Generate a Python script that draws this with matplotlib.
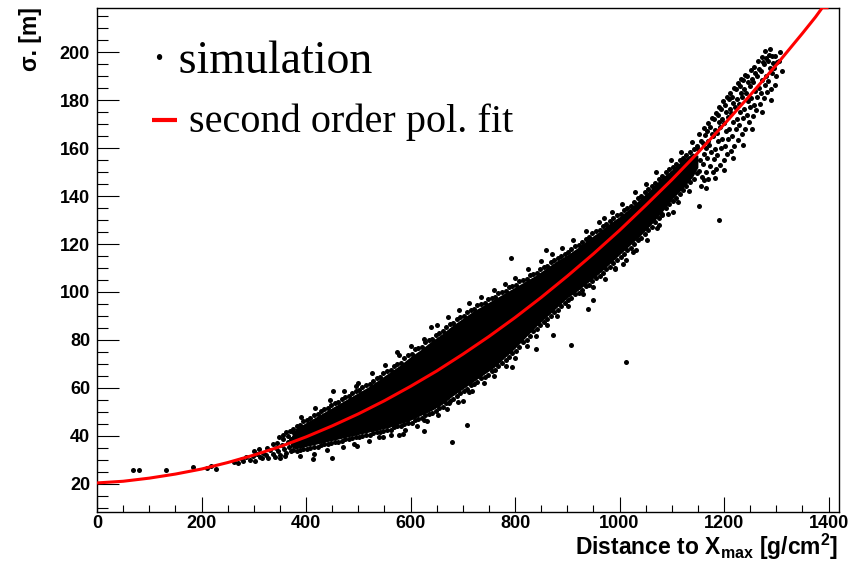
import matplotlib
matplotlib.use("Agg")
import matplotlib.pyplot as plt
from matplotlib.lines import Line2D
from matplotlib.ticker import MultipleLocator

plt.rcParams['font.family'] = ['Liberation Sans', 'DejaVu Sans']
plt.rcParams['mathtext.fontset'] = 'custom'
plt.rcParams['mathtext.bf'] = 'Liberation Sans:bold'
plt.rcParams['mathtext.rm'] = 'Liberation Sans:bold'
plt.rcParams['mathtext.default'] = 'bf'

# ---------------- data ----------------
x_label = r'Distance to X$_{max}$ [g/cm$^{2}$]'
y_label = 'σ. [m]'
legend_sim = '· simulation'
legend_fit = 'second order pol. fit'

# envelope of the solid (saturated) part of the simulation cloud
core_x = [370, 380, 400, 420, 440, 460, 480, 500, 520, 540, 560, 580, 600, 620, 640,
          660, 680, 700, 720, 740, 760, 780, 800, 820, 840, 860, 880, 900, 920, 940,
          960, 980, 1000, 1020, 1040, 1060, 1080, 1100, 1120, 1140, 1150]
core_lo = [35.5, 34.5, 35.5, 36.5, 37.5, 38.5, 39.5, 40.5, 41.5, 42.5, 43.5, 45, 46.5, 48.5, 50.5,
           53, 56.5, 59.5, 62.5, 65.5, 68.5, 72.5, 76.5, 81, 85.5, 89.5, 93.5, 97.5, 100.5, 104,
           107.5, 111.5, 115.5, 119.5, 123.5, 128, 133, 138.5, 143, 148, 152]
core_hi = [39, 43, 45.5, 48, 50.5, 53, 55.5, 58, 60.5, 63.5, 66.5, 69.5, 73, 76, 79.5,
           82.5, 86, 89, 92, 94.5, 97, 99.5, 102, 104.5, 107, 110, 113, 115.5, 118.5, 122,
           125, 128.5, 131.5, 135, 139, 143, 147.5, 151, 155, 158, 157]

# low-distance tail of the cloud
low_tail = [(280, 29.5), (286, 31), (292, 30), (298, 31.5), (302, 29.5), (306, 32.5), (311, 31),
            (316, 30.5), (318, 33), (324, 32), (328, 30.5), (331, 34), (336, 32.5), (340, 31),
            (343, 35), (347, 33.5), (351, 32), (354, 36), (358, 34.5), (362, 33), (365, 37.5),
            (368, 35.5), (372, 33.5), (372, 38.5), (366, 40), (355, 38.5), (345, 37), (336, 36.5),
            (325, 35), (310, 34.5), (300, 33.5), (350, 30.5), (360, 31.5), (377, 36), (377, 38),
            (356, 40.5), (362, 41.5), (348, 39.5), (370, 42), (375, 43)]

# points along the lower border of the dense band
lower_edge = [(375, 34), (382, 33.5), (388, 34), (395, 34.5), (402, 34.5), (408, 35), (415, 35.5),
              (422, 35.5), (428, 36), (435, 36.5), (442, 36.5), (448, 37), (455, 37.5), (462, 37.5),
              (468, 38), (475, 38.5), (482, 38.5), (488, 39), (495, 39.5), (502, 39.5), (508, 40),
              (515, 40.5), (522, 40.5), (528, 41), (535, 41.5), (542, 41.5), (548, 42), (555, 42.5),
              (562, 42.5), (568, 43.5), (575, 44), (582, 44), (588, 45), (595, 45.5), (602, 45.5),
              (608, 46.5), (615, 47), (622, 47.5), (628, 48.5), (635, 49), (642, 49.5), (648, 50.5),
              (655, 51.5), (662, 52), (668, 53.5), (675, 54.5), (682, 55.5), (688, 56.5), (695, 58),
              (702, 58.5), (708, 59.5), (715, 61), (722, 61.5), (728, 62.5), (735, 64), (742, 64.5),
              (748, 65.5), (755, 67), (762, 67.5), (768, 69), (775, 70.5), (782, 71.5), (788, 73),
              (795, 74.5), (802, 75.5), (808, 77), (815, 79), (822, 80), (828, 81.5), (835, 83.5),
              (842, 84.5), (848, 86), (855, 87.5), (862, 88.5), (868, 90), (875, 91.5), (882, 92.5),
              (888, 94), (895, 95.5), (902, 96.5), (908, 97.5), (915, 99), (922, 99.5), (928, 101),
              (935, 102.5), (942, 103), (948, 104.5), (955, 106), (962, 106.5), (968, 108),
              (975, 109.5), (982, 110.5), (988, 112), (995, 113.5), (1002, 114.5), (1008, 116),
              (1015, 117.5), (1022, 118.5), (1028, 120), (1035, 121.5), (1042, 122.5), (1048, 124),
              (1055, 126), (1062, 127), (1068, 129), (1075, 131), (1082, 132), (1088, 135),
              (1095, 136.5), (1102, 138), (1108, 139), (1115, 141), (1122, 142.5), (1128, 144),
              (1135, 146), (1142, 147), (1148, 149.5),
              (388, 31.5), (415, 32.5), (440, 34), (470, 35.5), (492, 36.5), (520, 38), (540, 39.5),
              (562, 40.5), (590, 42.5), (612, 44), (632, 46), (652, 48.5), (670, 51), (690, 54),
              (718, 58.5), (740, 62), (760, 65), (782, 69), (800, 72.5), (822, 77.5), (840, 81.5),
              (862, 86), (880, 90), (902, 94), (930, 99), (950, 102), (972, 105.5), (992, 109.5),
              (1012, 113.5), (1032, 117.5), (1052, 121.5), (1072, 126.5), (1092, 132.5),
              (1112, 137.5), (1132, 142)]

# points along the upper border of the dense band
upper_edge = [(375, 41.5), (382, 44), (388, 44.5), (395, 46), (402, 46.5), (408, 47.5), (415, 48.5),
              (422, 49), (428, 50.5), (435, 51), (442, 51.5), (448, 53), (455, 53.5), (462, 54),
              (468, 55.5), (475, 56), (482, 56.5), (488, 58), (495, 58.5), (502, 59), (508, 60.5),
              (515, 61), (522, 61.5), (528, 63), (535, 64), (542, 64.5), (548, 66), (555, 67),
              (562, 67.5), (568, 69), (575, 70), (582, 70.5), (588, 72.5), (595, 73.5), (602, 74),
              (608, 76), (615, 76.5), (622, 77), (628, 79), (635, 80), (642, 80.5), (648, 82),
              (655, 83), (662, 83.5), (668, 85.5), (675, 86.5), (682, 87), (688, 88.5), (695, 89.5),
              (702, 90), (708, 91.5), (715, 92.5), (722, 93), (728, 94.5), (735, 95), (742, 95.5),
              (748, 97), (755, 97.5), (762, 98), (768, 99.5), (775, 100), (782, 100.5), (788, 102),
              (795, 102.5), (802, 103), (808, 104.5), (815, 105), (822, 105.5), (828, 107),
              (835, 107.5), (842, 108), (848, 109.5), (855, 110.5), (862, 111), (868, 112.5),
              (875, 113.5), (882, 114), (888, 115), (895, 116), (902, 116.5), (908, 118), (915, 119),
              (922, 119.5), (928, 121), (935, 122), (942, 123), (948, 124.5), (955, 125.5),
              (962, 126), (968, 127.5), (975, 128.5), (982, 129.5), (988, 131), (995, 132),
              (1002, 132.5), (1008, 134), (1015, 135), (1022, 136), (1028, 137.5), (1035, 139),
              (1042, 140), (1048, 141.5), (1055, 143), (1062, 144), (1068, 145.5), (1075, 147),
              (1082, 148.5), (1088, 150), (1095, 151.5), (1102, 152), (1108, 153.5), (1115, 155),
              (1122, 156), (1128, 157), (1135, 158.5), (1142, 159.5), (1148, 161),
              (390, 48), (418, 51.5), (445, 55), (472, 58.5), (500, 62), (527, 66), (552, 69.5),
              (578, 73.5), (600, 77.5), (625, 80.5), (650, 86), (672, 89.5), (692, 92.5), (712, 95.5),
              (735, 98), (760, 101), (780, 103.5), (800, 106), (825, 109.5), (850, 113), (870, 116),
              (890, 118.5), (910, 121.5), (935, 125.5), (960, 129), (985, 133.5), (1005, 136.5),
              (1030, 141.5), (1050, 145), (1070, 150), (1098, 155), (1118, 158.5), (1138, 162.5)]

# sparser high-distance part of the cloud
upper_cloud = [(1152, 150.5), (1154, 155), (1151, 159.5), (1156, 163), (1153, 166), (1157, 148),
               (1160, 153.5), (1162, 157.5), (1159, 162), (1163, 165.5), (1161, 168.5),
               (1166, 150), (1168, 156), (1165, 160), (1169, 163), (1167, 167), (1170, 170.5),
               (1173, 152.5), (1175, 158.5), (1172, 161.5), (1176, 166), (1174, 169), (1177, 172.5),
               (1180, 155.5), (1182, 159.5), (1179, 165), (1183, 167.5), (1181, 172), (1184, 174.5),
               (1187, 157), (1189, 163), (1186, 166.5), (1190, 171), (1188, 174), (1191, 177),
               (1194, 160), (1196, 164), (1193, 169), (1197, 172), (1195, 176.5), (1198, 179.5),
               (1201, 161), (1203, 167), (1200, 170.5), (1204, 175), (1202, 178), (1205, 181.5),
               (1208, 164), (1210, 168), (1207, 173), (1211, 176.5), (1209, 180.5), (1212, 183),
               (1215, 165), (1217, 171), (1214, 174.5), (1218, 179), (1216, 181.5), (1219, 185),
               (1222, 168), (1224, 172), (1221, 177), (1225, 180.5), (1223, 184.5), (1226, 187),
               (1229, 169.5), (1231, 175), (1228, 178.5), (1232, 183), (1230, 186), (1233, 189),
               (1236, 172.5), (1238, 176.5), (1235, 181.5), (1239, 184.5), (1237, 188.5), (1240, 190.5),
               (1243, 174), (1245, 179.5), (1242, 183), (1246, 187.5), (1244, 190),
               (1250, 177), (1252, 181), (1249, 186), (1253, 189), (1251, 192.5),
               (1257, 178), (1259, 184), (1256, 187.5), (1260, 191.5), (1258, 194),
               (1264, 181.5), (1266, 185), (1263, 190), (1267, 193), (1265, 196.5),
               (1271, 183), (1273, 188.5), (1270, 192), (1274, 196), (1272, 198),
               (1278, 186.5), (1280, 190), (1277, 195), (1281, 197.5), (1279, 200.5),
               (1285, 188), (1287, 193.5), (1284, 196.5), (1288, 201.5), (1286, 199),
               (1292, 191.5), (1294, 195.5), (1291, 198.5), (1297, 198.5), (1295, 193.5),
               (1300, 190), (1302, 196), (1305, 196.5), (1310, 192), (1307, 200), (1298, 186.5),
               (1290, 184.5),
               (1155, 144), (1162, 146.5), (1170, 147), (1178, 150), (1185, 151.5), (1192, 153),
               (1199, 155), (1206, 157.5), (1213, 159), (1220, 161), (1227, 163.5), (1234, 166),
               (1241, 168), (1248, 171), (1255, 173.5), (1262, 176), (1269, 178.5), (1276, 181),
               (1283, 183.5), (1165, 143.5), (1183, 147.5), (1200, 151), (1218, 156), (1236, 161.5),
               (1254, 168), (1272, 175), (1290, 180)]

# isolated points
outliers = [(69, 25.6), (81, 25.6), (133, 25.8), (184, 27), (210, 26.6), (218, 27.4), (227, 26),
            (262, 29), (270, 28.5), (277, 30.4), (414, 30.2), (449, 30.8), (497, 35.8), (547, 39.3),
            (578, 40.2), (585, 40.7), (625, 42), (626, 46.5), (593, 46.5), (679, 37.2), (709, 44.4),
            (674, 53.5), (701, 54.6), (711, 58.3), (496, 60.7), (795, 68.8), (840, 76.3), (873, 82),
            (907, 77.8), (940, 92.8), (950, 96.6), (991, 109.8), (1007, 111.5), (1012, 70.8),
            (1026, 116.5), (1076, 128), (1082, 132.5), (1103, 133.2), (1152, 136), (1191, 130),
            (792, 114), (971, 131), (452, 58.5), (575, 75), (640, 85.5), (860, 117.5)]

# second order polynomial fit curve
fit_x = [0, 50, 100, 150, 200, 250, 300, 350, 400, 450, 500, 550, 600, 650, 700, 750, 800,
         850, 900, 950, 1000, 1050, 1100, 1150, 1200, 1250, 1275, 1300, 1325, 1350, 1375,
         1388, 1400]
fit_y = [20.3, 21.0, 22.3, 24.0, 26.1, 28.8, 31.9, 35.4, 39.5, 44.1, 49.1, 54.6, 60.6, 67.0,
         74.0, 81.4, 89.3, 97.7, 106.6, 115.9, 125.7, 136.1, 146.8, 158.1, 169.9, 182.1, 188.4,
         194.7, 201.3, 207.9, 214.7, 218.6, 218.6]

# ---------------- figure ----------------
W, H = 861, 571
fig = plt.figure(figsize=(W / 100, H / 100), dpi=100)
ax = fig.add_axes([97 / W, 1 - 511.7 / H, (839 - 97) / W, (511.7 - 7.7) / H])
ax.set_xlim(0, 1420)
ax.set_ylim(8.3, 218.6)

ax.fill_between(core_x, core_lo, core_hi, color='black', lw=0, zorder=2)

pts = low_tail + lower_edge + upper_edge + upper_cloud + outliers
sx = [p[0] for p in pts]
sy = [p[1] for p in pts]
ax.scatter(sx, sy, s=13, color='black', linewidths=0, zorder=3)

ax.plot(fit_x, fit_y, color='#ff0000', lw=2.2, zorder=4, solid_capstyle='butt',
        solid_joinstyle='round')

ax.xaxis.set_major_locator(MultipleLocator(200))
ax.xaxis.set_minor_locator(MultipleLocator(50))
ax.yaxis.set_major_locator(MultipleLocator(20))
ax.yaxis.set_minor_locator(MultipleLocator(5))
ax.tick_params(axis='both', which='both', direction='in', top=False, right=False,
               width=0.8, color='black')
ax.tick_params(axis='y', which='major', length=15.8, pad=5)
ax.tick_params(axis='y', which='minor', length=7.9)
ax.tick_params(axis='x', which='major', length=10.8, pad=2.5)
ax.tick_params(axis='x', which='minor', length=5.4)
for lab in ax.get_xticklabels() + ax.get_yticklabels():
    lab.set_fontweight('bold')
    lab.set_fontsize(13)
for sp in ax.spines.values():
    sp.set_linewidth(1.0)
    sp.set_color('black')

fig.text(838 / W, 1 - 555 / H, x_label, ha='right', va='baseline',
         fontsize=16.5, fontweight='bold')
fig.text(31 / W, 1 - 7 / H, y_label, rotation=90, ha='center', va='top',
         fontsize=16.5, fontweight='bold')

fig.text(152 / W, 1 - 73 / H, legend_sim, fontfamily=['Liberation Serif', 'DejaVu Serif'],
         fontsize=33, va='baseline', ha='left')
fig.add_artist(Line2D([152 / W, 177 / W], [1 - 119.7 / H] * 2, color='#ff0000', lw=3,
                      solid_capstyle='butt'))
fig.text(189 / W, 1 - 131.7 / H, legend_fit, fontfamily=['Liberation Serif', 'DejaVu Serif'],
         fontsize=29, va='baseline', ha='left')

fig.savefig('out.png', dpi=100)
